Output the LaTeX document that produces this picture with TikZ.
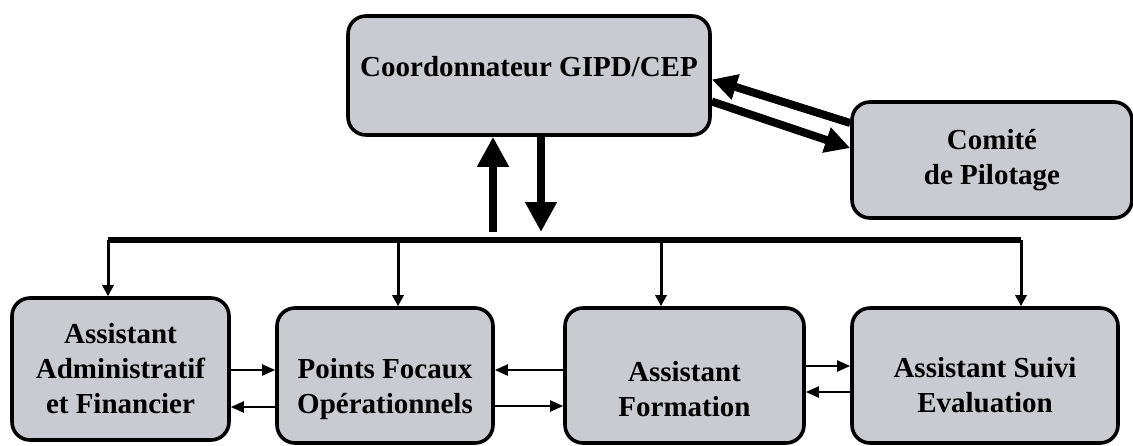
\documentclass[tikz,border=0pt]{standalone}
\usepackage{fontspec}
\setmainfont{Liberation Serif}
\usepackage{tikz}
\usetikzlibrary{arrows.meta,positioning,calc}
\definecolor{boxgray}{RGB}{201,203,208}
\newcommand{\padtop}[1]{\rule{0pt}{#1}}

\begin{document}
\begin{tikzpicture}[
  x=0.5pt, y=-0.5pt,
  font=\fontsize{14.5}{17.5}\selectfont\bfseries,
  unit/.style={draw, line width=1.8pt, rounded corners=9pt, fill=boxgray, align=center, inner sep=2pt},
  bus/.style={line width=2.6pt},
  drop/.style={line width=1.5pt, -{Triangle[width=5.5pt,length=5.5pt]}},
  link/.style={line width=1pt, -{Triangle[width=5.5pt,length=6.5pt]}},
  fat/.style={line width=4pt, -{Triangle[width=15pt,length=15pt]}},
  diag/.style={line width=4pt, -{Triangle[width=12.5pt,length=12.5pt]}}
]
\useasboundingbox (0,0) rectangle (1133,445);

\node[unit, minimum width=181pt, minimum height=59.5pt, text depth=9pt] (coord) at (529,75.5) {Coordonnateur GIPD/CEP};
\node[unit, minimum width=140pt, minimum height=58pt] (comite) at (992,160) {Comit\'e\\de Pilotage};

\node[unit, minimum width=108.5pt, minimum height=71pt] (aaf) at (120.5,369) {Assistant\\Administratif\\et Financier};
\node[unit, minimum width=108pt, minimum height=67.5pt] (pfo) at (385,375.5) {\padtop{24pt}Points Focaux\\Op\'erationnels};
\node[unit, minimum width=119.5pt, minimum height=67.5pt] (af) at (684.5,375.5) {\padtop{24pt}Assistant\\Formation};
\node[unit, minimum width=133pt, minimum height=67.5pt] (ase) at (985,375.5) {\padtop{20pt}Assistant Suivi\\Evaluation};

\coordinate (b1) at (108,240);
\coordinate (b2) at (398,240);
\coordinate (b3) at (661,240);
\coordinate (b4) at (1021,240);
\coordinate (upb) at (493,232);
\coordinate (dnb) at (541,232);

\draw[bus] (b1) -- (b4);
\draw[drop] (b1) -- (b1 |- aaf.north);
\draw[drop] (b2) -- (b2 |- pfo.north);
\draw[drop] (b3) -- (b3 |- af.north);
\draw[drop] (b4) -- (b4 |- ase.north);

\draw[fat] (upb) -- (upb |- coord.south);
\draw[fat] (dnb |- coord.south) -- (dnb);

\draw[diag] ([yshift=18.5pt]comite.west) -- ([yshift=-2pt]coord.east);
\draw[diag] ([yshift=-13pt]coord.east) -- ([yshift=6pt]comite.west);

\draw[link] ([yshift=-0.5pt]aaf.east) -- ([yshift=2.75pt]pfo.west);
\draw[link] ([yshift=-15.75pt]pfo.west) -- ([yshift=-19pt]aaf.east);
\draw[link] ([yshift=2.75pt]af.west) -- ([yshift=2.75pt]pfo.east);
\draw[link] ([yshift=-15.25pt]pfo.east) -- ([yshift=-15.25pt]af.west);
\draw[link] ([yshift=4.75pt]af.east) -- ([yshift=4.75pt]ase.west);
\draw[link] ([yshift=-8.25pt]ase.west) -- ([yshift=-8.25pt]af.east);
\end{tikzpicture}
\end{document}
